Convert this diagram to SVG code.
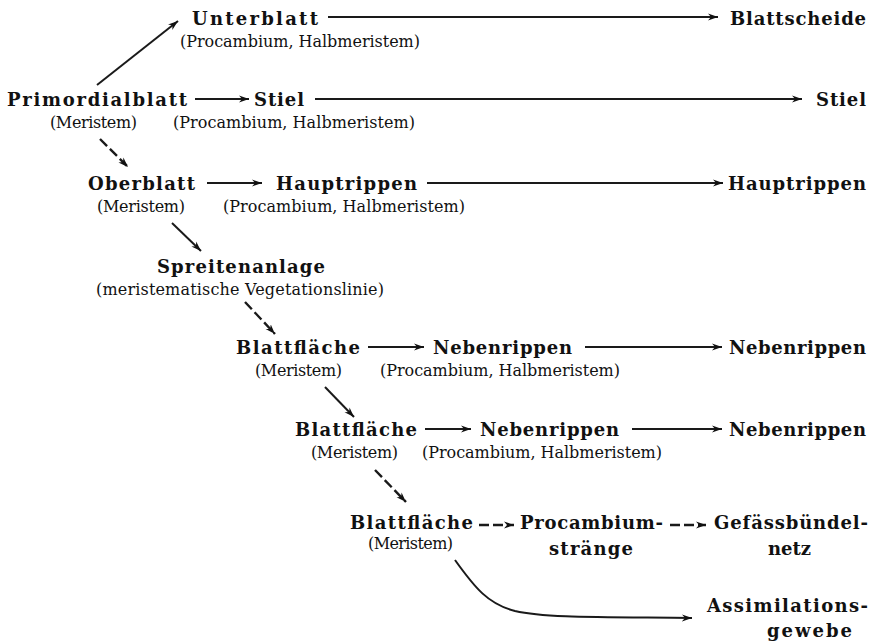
<svg xmlns="http://www.w3.org/2000/svg" width="875" height="643" viewBox="0 0 875 643">
<defs>
<style>
.h{font-family:"DejaVu Serif","Liberation Serif",serif;font-weight:bold;font-size:18px;fill:#111;}
.s{font-family:"DejaVu Serif","Liberation Serif",serif;font-size:16px;fill:#111;}
.ln{stroke:#1a1a1a;stroke-width:2;fill:none;}
.dash{stroke:#1a1a1a;stroke-width:2.4;fill:none;stroke-dasharray:10 4;}
</style>
<marker id="ah" markerUnits="userSpaceOnUse" markerWidth="12" markerHeight="9" refX="10" refY="4.5" orient="auto">
<path d="M0,1 L10,4.5 L0,8 L3,4.5 z" fill="#111"/>
</marker>
</defs>
<rect width="875" height="643" fill="#fff"/>

<g id="connectors">
<line class="ln" x1="97" y1="85" x2="178" y2="21" marker-end="url(#ah)"/>
<line class="ln" x1="328" y1="17" x2="718" y2="17" marker-end="url(#ah)"/>
<line class="ln" x1="195" y1="99" x2="249" y2="99" marker-end="url(#ah)"/>
<line class="ln" x1="315" y1="99" x2="802" y2="99" marker-end="url(#ah)"/>
<line class="dash" x1="100" y1="139" x2="128" y2="167" marker-end="url(#ah)"/>
<line class="ln" x1="207" y1="183" x2="262" y2="183" marker-end="url(#ah)"/>
<line class="ln" x1="427" y1="183" x2="723" y2="183" marker-end="url(#ah)"/>
<line class="ln" x1="172" y1="223" x2="201" y2="251" marker-end="url(#ah)"/>
<line class="dash" x1="245" y1="302" x2="275" y2="334" marker-end="url(#ah)"/>
<line class="ln" x1="368" y1="347" x2="424" y2="347" marker-end="url(#ah)"/>
<line class="ln" x1="585" y1="347" x2="722" y2="347" marker-end="url(#ah)"/>
<line class="ln" x1="325" y1="387" x2="354" y2="417" marker-end="url(#ah)"/>
<line class="ln" x1="425" y1="429" x2="471" y2="429" marker-end="url(#ah)"/>
<line class="ln" x1="632" y1="429" x2="722" y2="429" marker-end="url(#ah)"/>
<line class="dash" x1="375" y1="470" x2="406" y2="502" marker-end="url(#ah)"/>
<line class="dash" x1="479" y1="525" x2="514" y2="525" marker-end="url(#ah)"/>
<line class="dash" x1="670" y1="525" x2="706" y2="525" marker-end="url(#ah)"/>
<path class="ln" d="M455,560 C475,588 488,604 515,611 C545,618 600,617 692,618" marker-end="url(#ah)"/>
</g>

<g id="n-unterblatt">
<text class="h" x="192" y="25" textLength="126" lengthAdjust="spacing">Unterblatt</text>
<text class="s" x="180" y="47" textLength="240" lengthAdjust="spacing">(Procambium, Halbmeristem)</text>
</g>
<g id="n-blattscheide">
<text class="h" x="730" y="25" textLength="136" lengthAdjust="spacing">Blattscheide</text>
</g>
<g id="n-primordialblatt">
<text class="h" x="7" y="106" textLength="180" lengthAdjust="spacing">Primordialblatt</text>
<text class="s" x="50" y="128" textLength="87" lengthAdjust="spacing">(Meristem)</text>
</g>
<g id="n-stiel">
<text class="h" x="254" y="106" textLength="50" lengthAdjust="spacing">Stiel</text>
<text class="s" x="173" y="128" textLength="242" lengthAdjust="spacing">(Procambium, Halbmeristem)</text>
</g>
<g id="n-stiel2">
<text class="h" x="816" y="106" textLength="50" lengthAdjust="spacing">Stiel</text>
</g>
<g id="n-oberblatt">
<text class="h" x="88" y="190" textLength="107" lengthAdjust="spacing">Oberblatt</text>
<text class="s" x="97" y="212" textLength="88" lengthAdjust="spacing">(Meristem)</text>
</g>
<g id="n-hauptrippen">
<text class="h" x="276" y="190" textLength="141" lengthAdjust="spacing">Hauptrippen</text>
<text class="s" x="223" y="212" textLength="242" lengthAdjust="spacing">(Procambium, Halbmeristem)</text>
</g>
<g id="n-hauptrippen2">
<text class="h" x="728" y="190" textLength="138" lengthAdjust="spacing">Hauptrippen</text>
</g>
<g id="n-spreitenanlage">
<text class="h" x="157" y="273" textLength="168" lengthAdjust="spacing">Spreitenanlage</text>
<text class="s" x="96" y="295" textLength="288" lengthAdjust="spacing">(meristematische Vegetationslinie)</text>
</g>
<g id="n-blattflaeche1">
<text class="h" x="236" y="354" textLength="124" lengthAdjust="spacing">Blattfläche</text>
<text class="s" x="255" y="376" textLength="87" lengthAdjust="spacing">(Meristem)</text>
</g>
<g id="n-nebenrippen1">
<text class="h" x="433" y="354" textLength="139" lengthAdjust="spacing">Nebenrippen</text>
<text class="s" x="380" y="376" textLength="240" lengthAdjust="spacing">(Procambium, Halbmeristem)</text>
</g>
<g id="n-nebenrippen1b">
<text class="h" x="729" y="354" textLength="137" lengthAdjust="spacing">Nebenrippen</text>
</g>
<g id="n-blattflaeche2">
<text class="h" x="295" y="436" textLength="122" lengthAdjust="spacing">Blattfläche</text>
<text class="s" x="311" y="458" textLength="87" lengthAdjust="spacing">(Meristem)</text>
</g>
<g id="n-nebenrippen2">
<text class="h" x="480" y="436" textLength="139" lengthAdjust="spacing">Nebenrippen</text>
<text class="s" x="422" y="458" textLength="240" lengthAdjust="spacing">(Procambium, Halbmeristem)</text>
</g>
<g id="n-nebenrippen2b">
<text class="h" x="729" y="436" textLength="137" lengthAdjust="spacing">Nebenrippen</text>
</g>
<g id="n-blattflaeche3">
<text class="h" x="350" y="529" textLength="123" lengthAdjust="spacing">Blattfläche</text>
<text class="s" x="368" y="549" textLength="85" lengthAdjust="spacing">(Meristem)</text>
</g>
<g id="n-procambiumstraenge">
<text class="h" x="520" y="529" textLength="143" lengthAdjust="spacing">Procambium-</text>
<text class="h" x="549" y="555" textLength="84" lengthAdjust="spacing">stränge</text>
</g>
<g id="n-gefaessbuendelnetz">
<text class="h" x="714" y="529" textLength="154" lengthAdjust="spacing">Gefässbündel-</text>
<text class="h" x="768" y="555" textLength="43" lengthAdjust="spacing">netz</text>
</g>
<g id="n-assimilationsgewebe">
<text class="h" x="707" y="612" textLength="161" lengthAdjust="spacing">Assimilations-</text>
<text class="h" x="767" y="637" textLength="85" lengthAdjust="spacing">gewebe</text>
</g>
</svg>
